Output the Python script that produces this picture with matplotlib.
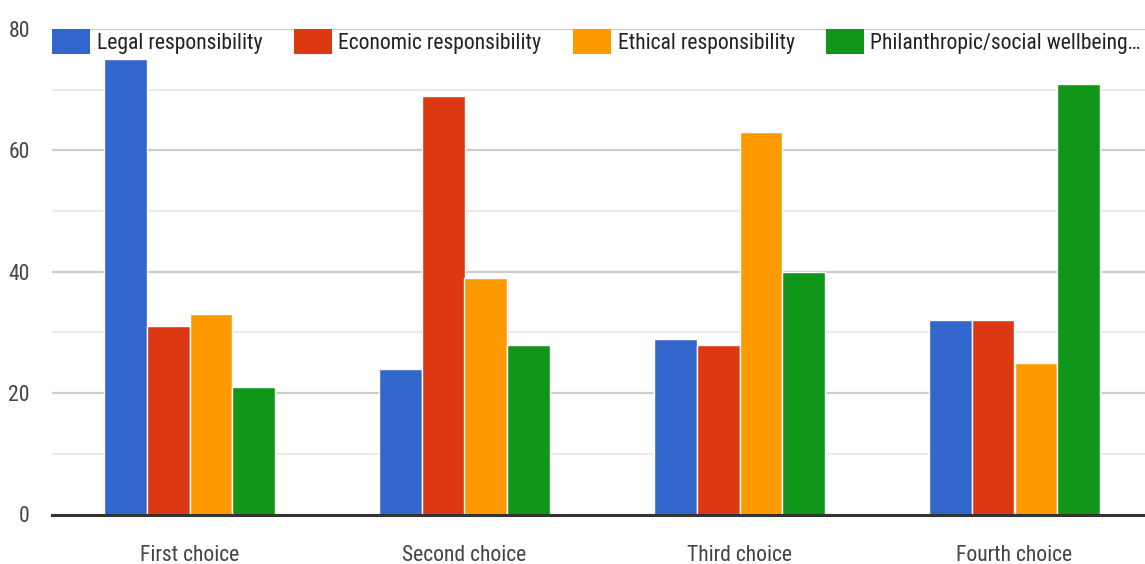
import matplotlib
matplotlib.use("Agg")
import matplotlib.pyplot as plt
import matplotlib.font_manager as fm
import numpy as np
from matplotlib.patches import Patch

categories = ["First choice", "Second choice", "Third choice", "Fourth choice"]
series_names = ["Legal responsibility", "Economic responsibility",
                "Ethical responsibility", "Philanthropic/social wellbeing…"]
legal = [75, 24, 29, 32]
economic = [31, 69, 28, 32]
ethical = [33, 39, 63, 25]
philanthropic = [21, 28, 40, 71]
y_ticks = [0, 20, 40, 60, 80]
colors = ["#3366CC", "#DC3912", "#FF9900", "#109618"]

# pick a narrow / condensed face if one is installed
def find_narrow():
    prefs = ["liberationsansnarrow-regular", "robotocondensed-regular",
             "dejavusanscondensed.ttf", "opensans_condensed", "opensanscondensed"]
    files = [f for f in fm.fontManager.ttflist]
    for p in prefs:
        for f in files:
            if p in f.fname.lower().replace(" ", "").replace("-", "") or p in f.fname.lower():
                return f
    for f in files:
        n = (f.name + " " + f.fname).lower()
        if ("narrow" in n or "condensed" in n) and "bold" not in n and "italic" not in n \
                and "oblique" not in n and "mono" not in n and "light" not in n:
            return f
    return None

nf = find_narrow()
if nf is not None:
    base_fp = fm.FontProperties(fname=nf.fname)
else:
    base_fp = fm.FontProperties(family=["Roboto", "DejaVu Sans"])

W, H = 1145, 564
fig = plt.figure(figsize=(W / 100, H / 100), dpi=100)
ax = fig.add_axes([52 / W, 1 - 514.5 / H, 1100 / W, (514.5 - 29) / H])

# measure label widths to find a font size that fits the legend in the width
renderer = fig.canvas.get_renderer()
fp10 = base_fp.copy()
fp10.set_size(10)
tot = 0
for s in series_names:
    t = fig.text(0, 0, s, fontproperties=fp10)
    tot += t.get_window_extent(renderer).width
    t.remove()
fs = 10 * 814 / tot
fs = min(fs, 21.5)
fp = base_fp.copy()
fp.set_size(fs)
px = fs * 100 / 72

series = [legal, economic, ethical, philanthropic]
x = np.arange(len(categories))
bw = 0.155
for i, (vals, c) in enumerate(zip(series, colors)):
    ax.bar(x + (i - 1.5) * bw, vals, width=bw, color=c, edgecolor="white",
           linewidth=1.0, zorder=3)

ax.set_xlim(-0.5, 3.5)
ax.set_ylim(0, 80)
ax.set_yticks(y_ticks)
ax.set_yticks([10, 30, 50, 70], minor=True)
ax.grid(axis="y", which="major", color="#cccccc", linewidth=1.6, zorder=0)
ax.grid(axis="y", which="minor", color="#ebebeb", linewidth=1.6, zorder=0)
ax.set_xticks(x)
ax.set_xticklabels(categories)
for s in ["top", "right", "left"]:
    ax.spines[s].set_visible(False)
ax.spines["bottom"].set_color("#333333")
ax.spines["bottom"].set_linewidth(2.2)
ax.spines["bottom"].set_zorder(4)
ax.tick_params(axis="both", which="both", length=0, labelcolor="#444444")
ax.tick_params(axis="y", pad=16)
ax.tick_params(axis="x", pad=22)
for t in ax.get_xticklabels() + ax.get_yticklabels():
    t.set_fontproperties(fp)

handles = [Patch(facecolor=c, edgecolor="none") for c in colors]
leg = fig.legend(handles, series_names, loc="upper left",
                 bbox_to_anchor=(52 / W, 1 - 29 / H), ncol=4, frameon=False,
                 prop=fp, handlelength=38 / px, handleheight=30 / px,
                 handletextpad=7 / px, columnspacing=31 / px, borderpad=0,
                 borderaxespad=0)
for t in leg.get_texts():
    t.set_color("#222222")

fig.savefig("out.png", dpi=100, facecolor="white")
